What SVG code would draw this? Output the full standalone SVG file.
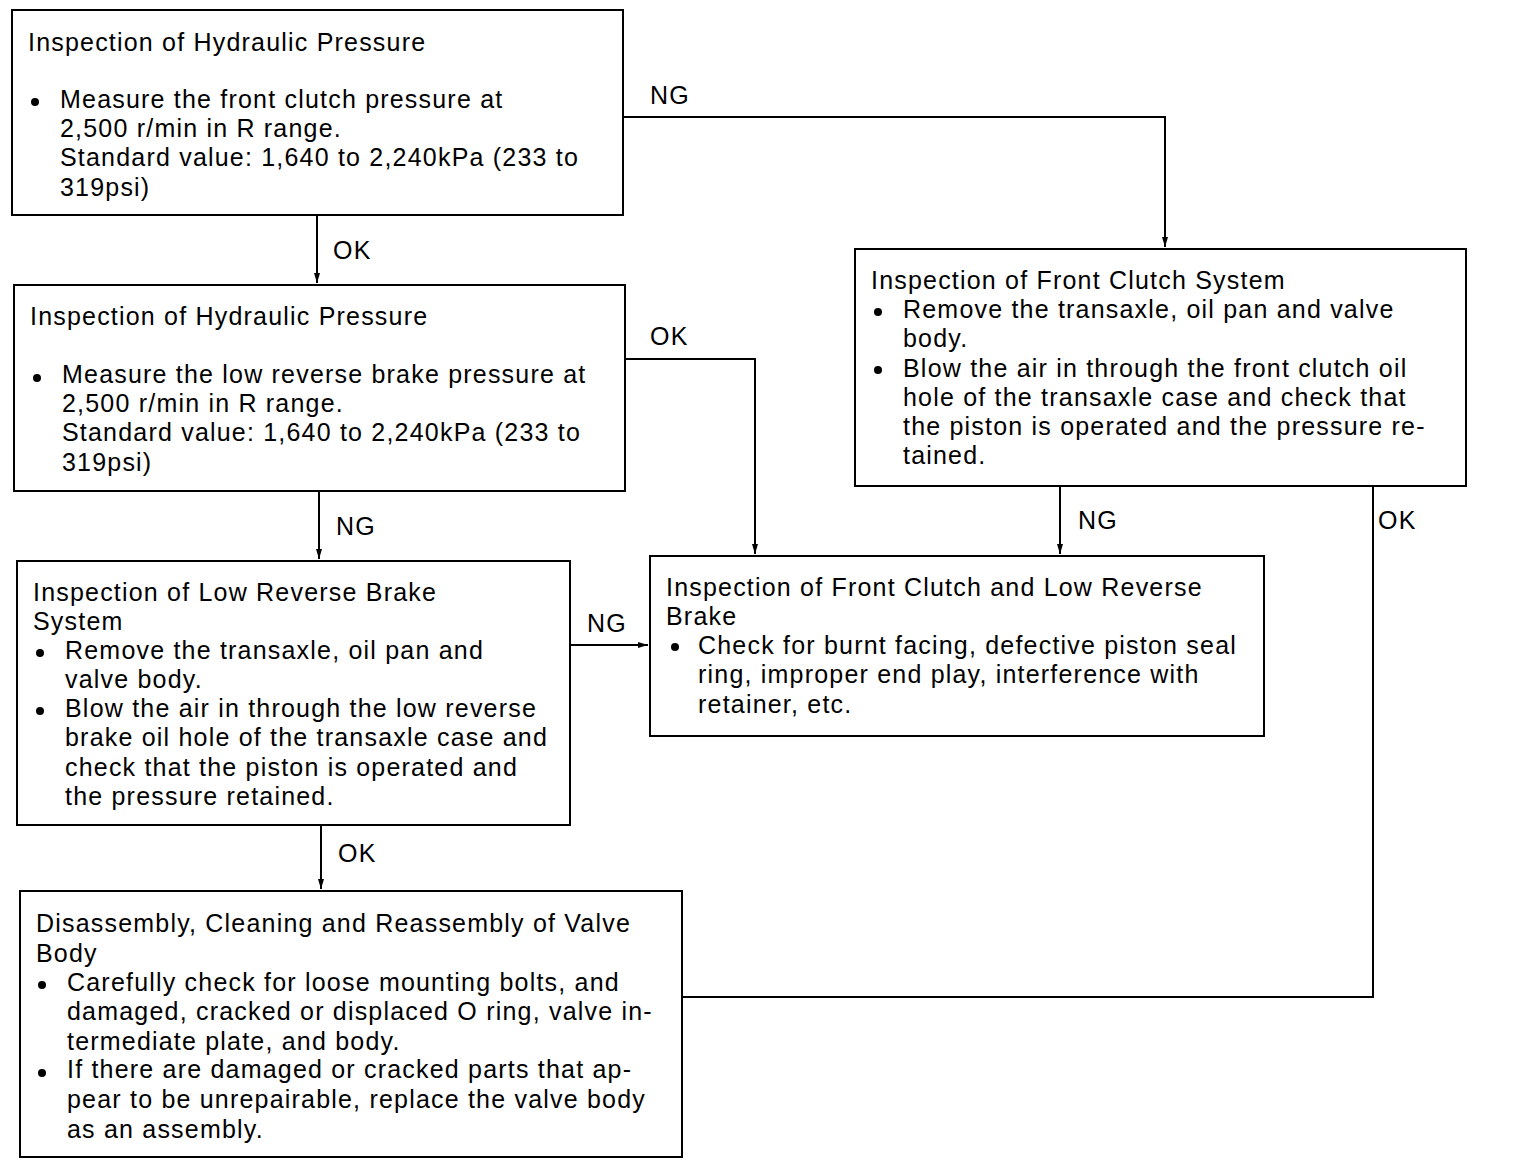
<svg xmlns="http://www.w3.org/2000/svg" width="1520" height="1176" viewBox="0 0 1520 1176">
<style>
.box{fill:#fff;stroke:#000;stroke-width:2}
text{font-family:"Liberation Sans",Arial,sans-serif;font-size:25px;letter-spacing:1.2px;fill:#000}
.c{fill:none;stroke:#000;stroke-width:2}
</style>
<defs>
<marker id="ah" viewBox="0 0 10 10" refX="10" refY="5" markerWidth="10" markerHeight="10" markerUnits="userSpaceOnUse" orient="auto">
<path d="M0,2 L10,5 L0,8 z" fill="#000"/>
</marker>
</defs>
<rect width="1520" height="1176" fill="#fff"/>
<g id="connectors">
<path class="c" d="M623,117 H1165 V247" marker-end="url(#ah)"/>
<path class="c" d="M317,215 V283" marker-end="url(#ah)"/>
<path class="c" d="M625,359 H755 V554" marker-end="url(#ah)"/>
<path class="c" d="M319,491 V559" marker-end="url(#ah)"/>
<path class="c" d="M570,645 H648" marker-end="url(#ah)"/>
<path class="c" d="M1060,486 V554" marker-end="url(#ah)"/>
<path class="c" d="M1373,486 V997 H682"/>
<path class="c" d="M321,825 V889" marker-end="url(#ah)"/>
<text x="650" y="104">NG</text>
<text x="333" y="259">OK</text>
<text x="650" y="345">OK</text>
<text x="336" y="535">NG</text>
<text x="587" y="632">NG</text>
<text x="1078" y="529">NG</text>
<text x="1378" y="529">OK</text>
<text x="338" y="862">OK</text>
</g>
<g id="box1">
<rect class="box" x="12" y="10" width="611" height="205"/>
<text x="28" y="51">Inspection of Hydraulic Pressure</text>
<circle cx="35" cy="102" r="4"/>
<text x="60" y="108">Measure the front clutch pressure at</text>
<text x="60" y="137">2,500 r/min in R range.</text>
<text x="60" y="166">Standard value: 1,640 to 2,240kPa (233 to</text>
<text x="60" y="196">319psi)</text>
</g>
<g id="box2">
<rect class="box" x="14" y="285" width="611" height="206"/>
<text x="30" y="325">Inspection of Hydraulic Pressure</text>
<circle cx="37" cy="378" r="4"/>
<text x="62" y="383">Measure the low reverse brake pressure at</text>
<text x="62" y="412">2,500 r/min in R range.</text>
<text x="62" y="441">Standard value: 1,640 to 2,240kPa (233 to</text>
<text x="62" y="471">319psi)</text>
</g>
<g id="box3">
<rect class="box" x="855" y="249" width="611" height="237"/>
<text x="871" y="289">Inspection of Front Clutch System</text>
<circle cx="878" cy="312" r="4"/>
<text x="903" y="318">Remove the transaxle, oil pan and valve</text>
<text x="903" y="347">body.</text>
<circle cx="878" cy="370" r="4"/>
<text x="903" y="377">Blow the air in through the front clutch oil</text>
<text x="903" y="406">hole of the transaxle case and check that</text>
<text x="903" y="435">the piston is operated and the pressure re-</text>
<text x="903" y="464">tained.</text>
</g>
<g id="box4">
<rect class="box" x="17" y="561" width="553" height="264"/>
<text x="33" y="601">Inspection of Low Reverse Brake</text>
<text x="33" y="630">System</text>
<circle cx="40" cy="653" r="4"/>
<text x="65" y="659">Remove the transaxle, oil pan and</text>
<text x="65" y="688">valve body.</text>
<circle cx="40" cy="711" r="4"/>
<text x="65" y="717">Blow the air in through the low reverse</text>
<text x="65" y="746">brake oil hole of the transaxle case and</text>
<text x="65" y="776">check that the piston is operated and</text>
<text x="65" y="805">the pressure retained.</text>
</g>
<g id="box5">
<rect class="box" x="650" y="556" width="614" height="180"/>
<text x="666" y="596">Inspection of Front Clutch and Low Reverse</text>
<text x="666" y="625">Brake</text>
<circle cx="675" cy="647" r="4"/>
<text x="698" y="654">Check for burnt facing, defective piston seal</text>
<text x="698" y="683">ring, improper end play, interference with</text>
<text x="698" y="713">retainer, etc.</text>
</g>
<g id="box6">
<rect class="box" x="20" y="891" width="662" height="266"/>
<text x="36" y="932">Disassembly, Cleaning and Reassembly of Valve</text>
<text x="36" y="962">Body</text>
<circle cx="42" cy="985" r="4"/>
<text x="67" y="991">Carefully check for loose mounting bolts, and</text>
<text x="67" y="1020">damaged, cracked or displaced O ring, valve in-</text>
<text x="67" y="1050">termediate plate, and body.</text>
<circle cx="42" cy="1073" r="4"/>
<text x="67" y="1078">If there are damaged or cracked parts that ap-</text>
<text x="67" y="1108">pear to be unrepairable, replace the valve body</text>
<text x="67" y="1138">as an assembly.</text>
</g>
</svg>
